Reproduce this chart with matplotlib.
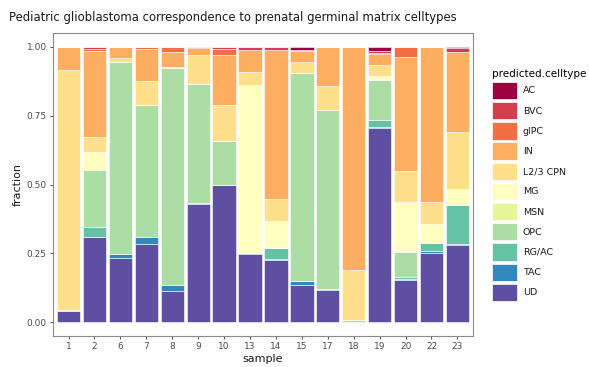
import numpy as np
from matplotlib import pyplot as plt
from matplotlib.patches import Patch

samples = ["1", "2", "6", "7", "8", "9", "10", "13", "14", "15", "17", "18", "19", "20", "22", "23"]

# cell types, listed bottom of stack first
celltypes = ["UD", "TAC", "RG/AC", "OPC", "MSN", "MG", "L2/3 CPN", "IN", "gIPC", "BVC", "AC"]
colors = ["#5E4FA2", "#3288BD", "#66C2A5", "#ABDDA4", "#E6F598", "#FFFFBF",
          "#FEE08B", "#FDAE61", "#F46D43", "#D53E4F", "#9E0142"]

# fraction of each cell type per sample
UD    = [.040, .309, .232, .285, .112, .428, .498, .247, .226, .135, .117, .002, .706, .154, .252, .282]
TAC   = [0, 0, .017, .023, .023, .004, .002, .003, .005, .014, .003, 0, .004, .002, .006, .002]
RG_AC = [.003, .036, 0, 0, 0, 0, 0, 0, .039, 0, 0, 0, .025, .008, .030, .140]
OPC   = [.002, .207, .694, .481, .789, .433, .159, 0, 0, .755, .649, .006, .145, .091, 0, 0]
MSN   = [0, 0, 0, 0, 0, 0, 0, 0, 0, 0, 0, 0, 0, 0, 0, 0]
MG    = [0, .067, 0, 0, 0, 0, 0, .612, .098, 0, 0, 0, .015, .183, .069, .060]
L23   = [.872, .052, .017, .086, .004, .106, .128, .045, .080, .042, .087, .182, .039, .111, .080, .206]
IN    = [.083, .312, .040, .117, .052, .024, .184, .082, .541, .037, .144, .810, .039, .415, .563, .290]
gIPC  = [0, .009, 0, .008, .020, 0, .021, 0, 0, .004, 0, 0, .006, .036, 0, 0]
BVC   = [0, .008, 0, 0, 0, .005, .008, .011, .011, .003, 0, 0, .006, 0, 0, .014]
AC    = [0, 0, 0, 0, 0, 0, 0, 0, 0, .010, 0, 0, .015, 0, 0, .006]

fractions = [UD, TAC, RG_AC, OPC, MSN, MG, L23, IN, gIPC, BVC, AC]

fig = plt.figure(figsize=(5.89, 3.67), dpi=100)
ax = fig.add_axes([0.090, 0.0845, 0.713, 0.8255])

x = np.arange(len(samples))
bottom = np.zeros(len(samples))
for name, vals, col in zip(celltypes, fractions, colors):
	vals = np.asarray(vals)
	ax.bar(x, vals, width=0.9, bottom=bottom, color=col, edgecolor="white", linewidth=0.4)
	bottom += vals

grey = "#4D4D4D"
ax.set_xlim(-0.6, len(samples) - 0.4)
ax.set_ylim(-0.05, 1.05)
ax.set_xticks(x)
ax.set_xticklabels(samples)
ax.set_yticks([0, 0.25, 0.5, 0.75, 1.0])
ax.set_yticklabels(["0.00", "0.25", "0.50", "0.75", "1.00"])
ax.tick_params(colors="#333333", labelcolor=grey, labelsize=6.5, length=2.5, width=0.6, pad=2)
for s in ax.spines.values():
	s.set_color("#8A8A8A")
	s.set_linewidth(0.8)
ax.set_xlabel("sample", fontsize=8, color="#1A1A1A", labelpad=2)
ax.set_ylabel("fraction", fontsize=8, color="#1A1A1A", labelpad=3)

fig.text(0.015, 0.952, "Pediatric glioblastoma correspondence to prenatal germinal matrix celltypes",
	fontsize=8.4, color="#1A1A1A", va="center", ha="left")

# legend, top entry first
handles = [Patch(facecolor=c, edgecolor="white", linewidth=0.5) for c in colors[::-1]]
leg = fig.legend(handles, celltypes[::-1], loc="upper left", bbox_to_anchor=(0.836, 0.812),
	frameon=False, fontsize=6.8, title="predicted.celltype", title_fontsize=7.5,
	handlelength=2.6, handleheight=2.45, labelspacing=0.3, handletextpad=0.6,
	borderpad=0, borderaxespad=0)
leg._legend_box.align = "left"
for t in leg.get_texts():
	t.set_color("#1A1A1A")

fig.savefig("out.png", dpi=100)
